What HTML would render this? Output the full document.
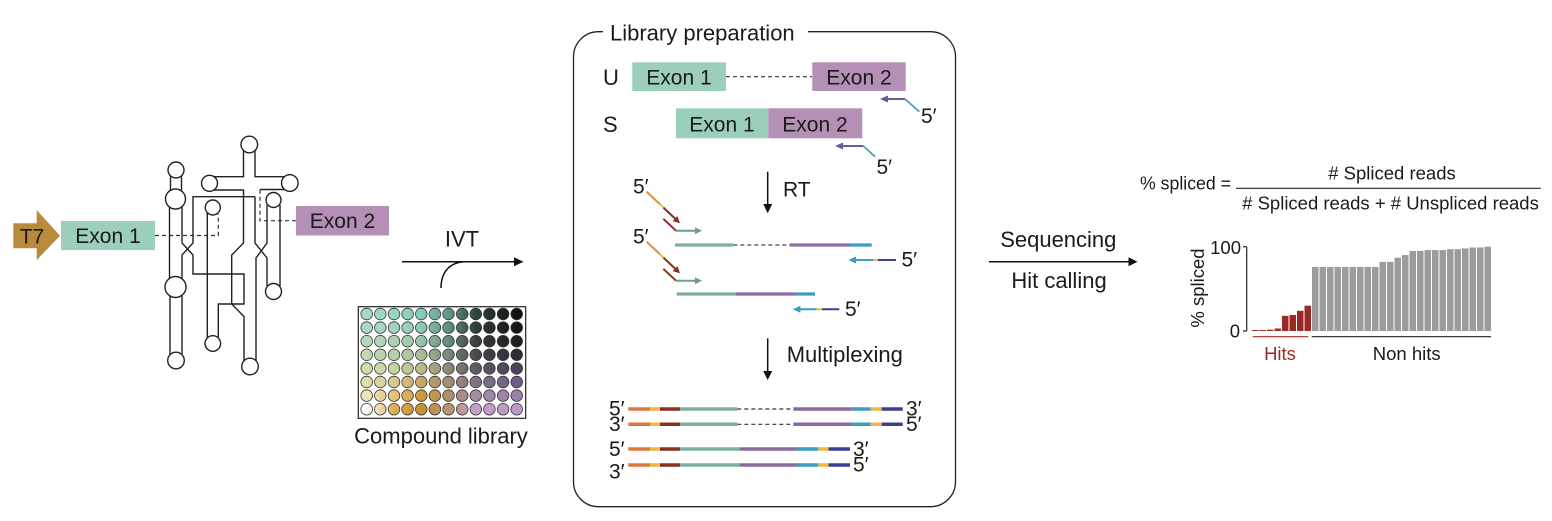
<!DOCTYPE html>
<html><head><meta charset="utf-8"><style>
html,body{margin:0;padding:0;background:#fff;}
svg{display:block;}
text{font-family:"Liberation Sans",Arial,sans-serif;fill:#1a1a1a;}
</style></head><body>
<svg width="1552" height="521" viewBox="0 0 1552 521" xmlns="http://www.w3.org/2000/svg">
<defs>
<linearGradient id="r0" gradientUnits="userSpaceOnUse" x1="366.7" y1="0" x2="516.7" y2="0"><stop offset="0" stop-color="#A8D8CA"/><stop offset=".18" stop-color="#98D4C4"/><stop offset=".36" stop-color="#88CCBC"/><stop offset=".55" stop-color="#5E9688"/><stop offset=".73" stop-color="#2E4441"/><stop offset="1" stop-color="#111111"/></linearGradient>
<linearGradient id="r1" gradientUnits="userSpaceOnUse" x1="366.7" y1="0" x2="516.7" y2="0"><stop offset="0" stop-color="#AED8C6"/><stop offset=".18" stop-color="#A0D4BE"/><stop offset=".36" stop-color="#8ECAB4"/><stop offset=".55" stop-color="#5E8E82"/><stop offset=".73" stop-color="#303C3C"/><stop offset="1" stop-color="#161618"/></linearGradient>
<linearGradient id="r2" gradientUnits="userSpaceOnUse" x1="366.7" y1="0" x2="516.7" y2="0"><stop offset="0" stop-color="#B6D8BE"/><stop offset=".18" stop-color="#AAD2B4"/><stop offset=".36" stop-color="#98C6A8"/><stop offset=".55" stop-color="#66887C"/><stop offset=".73" stop-color="#383E3E"/><stop offset="1" stop-color="#201E22"/></linearGradient>
<linearGradient id="r3" gradientUnits="userSpaceOnUse" x1="366.7" y1="0" x2="516.7" y2="0"><stop offset="0" stop-color="#C2D8B6"/><stop offset=".18" stop-color="#B6D0A8"/><stop offset=".36" stop-color="#A6C09A"/><stop offset=".55" stop-color="#768878"/><stop offset=".73" stop-color="#48484C"/><stop offset="1" stop-color="#302A36"/></linearGradient>
<linearGradient id="r4" gradientUnits="userSpaceOnUse" x1="366.7" y1="0" x2="516.7" y2="0"><stop offset="0" stop-color="#D0DCAE"/><stop offset=".18" stop-color="#C8D4A0"/><stop offset=".36" stop-color="#B8BC88"/><stop offset=".55" stop-color="#8C8A78"/><stop offset=".73" stop-color="#605868"/><stop offset="1" stop-color="#4C405A"/></linearGradient>
<linearGradient id="r5" gradientUnits="userSpaceOnUse" x1="366.7" y1="0" x2="516.7" y2="0"><stop offset="0" stop-color="#E0DEAA"/><stop offset=".18" stop-color="#D8C890"/><stop offset=".36" stop-color="#C8A860"/><stop offset=".55" stop-color="#A08C78"/><stop offset=".73" stop-color="#807088"/><stop offset="1" stop-color="#705C84"/></linearGradient>
<linearGradient id="r6" gradientUnits="userSpaceOnUse" x1="366.7" y1="0" x2="516.7" y2="0"><stop offset="0" stop-color="#EEE6BE"/><stop offset=".18" stop-color="#E4C278"/><stop offset=".36" stop-color="#D09A3C"/><stop offset=".55" stop-color="#B08E6C"/><stop offset=".73" stop-color="#A08CA4"/><stop offset="1" stop-color="#9A82AA"/></linearGradient>
<linearGradient id="r7" gradientUnits="userSpaceOnUse" x1="366.7" y1="0" x2="516.7" y2="0"><stop offset="0" stop-color="#FFFFFF"/><stop offset=".18" stop-color="#DEAE55"/><stop offset=".36" stop-color="#C8902F"/><stop offset=".55" stop-color="#B69478"/><stop offset=".73" stop-color="#C49FC6"/><stop offset="1" stop-color="#BC98C4"/></linearGradient>
<g id="row">
<circle cx="366.7" cy="0" r="5.8"/><circle cx="380.3" cy="0" r="5.8"/><circle cx="394" cy="0" r="5.8"/><circle cx="407.6" cy="0" r="5.8"/><circle cx="421.3" cy="0" r="5.8"/><circle cx="434.9" cy="0" r="5.8"/><circle cx="448.5" cy="0" r="5.8"/><circle cx="462.2" cy="0" r="5.8"/><circle cx="475.8" cy="0" r="5.8"/><circle cx="489.4" cy="0" r="5.8"/><circle cx="503.1" cy="0" r="5.8"/><circle cx="516.7" cy="0" r="5.8"/>
</g>
</defs>

<!-- ===== LEFT: T7 / Exons / RNA structure ===== -->
<polygon points="13.3,223.3 36.7,223.3 36.7,210 60,235.7 36.7,260 36.7,248.3 13.3,248.3" fill="#B98A3C"/>
<text x="32" y="243.5" font-size="21" text-anchor="middle">T7</text>
<rect x="61" y="221" width="94" height="29" fill="#9CCFBA"/>
<text x="108" y="243" font-size="21" text-anchor="middle">Exon 1</text>
<rect x="296" y="206" width="93" height="29.5" fill="#B590B6"/>
<text x="342.5" y="228" font-size="21" text-anchor="middle">Exon 2</text>

<g fill="none" stroke="#222" stroke-width="1.4" stroke-linejoin="miter">
<polyline points="155,235.5 218.3,235.5 218.3,214" stroke-dasharray="4,3" stroke="#333" stroke-width="1.2"/>
<polyline points="296,220.7 260,220.7 260,189.5" stroke-dasharray="4,3" stroke="#333" stroke-width="1.2"/>
<line x1="170.5" y1="176" x2="170.5" y2="192"/>
<line x1="181.5" y1="176" x2="181.5" y2="192"/>
<line x1="169.5" y1="205" x2="169.5" y2="280"/>
<line x1="170" y1="294" x2="170" y2="354"/>
<line x1="182" y1="294" x2="182" y2="354"/>
<polyline points="218.3,337 218.3,304 244,304 244,274 193,274 193,255 182,243 182,206"/>
<polyline points="255,196.7 193,196.7 193,243 182,255 182,280"/>
<line x1="207.3" y1="212" x2="207.3" y2="338"/>
<polyline points="243.5,150 243.5,176.7 213,176.7"/>
<polyline points="213,190 243.5,190 243.5,243 231.7,255 231.7,304 244,316.7 244,361"/>
<polyline points="255,150 255,176.7 286,176.7"/>
<polyline points="286,189.5 260,189.5"/>
<polyline points="255,196.7 255,243 267,258 267,286"/>
<polyline points="267,205 267,243 256,258 256,361"/>
<line x1="280" y1="205" x2="280" y2="286"/>
</g>
<g fill="#fff" stroke="#222" stroke-width="1.4">
<circle cx="176" cy="170" r="8"/>
<circle cx="175.5" cy="199" r="10"/>
<circle cx="175.5" cy="287" r="10.5"/>
<circle cx="176" cy="360.5" r="8.3"/>
<circle cx="212.8" cy="207.5" r="7.5"/>
<circle cx="212.8" cy="343.5" r="7.8"/>
<circle cx="249.3" cy="144.5" r="8.3"/>
<circle cx="209.5" cy="183.3" r="8"/>
<circle cx="289.8" cy="183" r="8.3"/>
<circle cx="273.5" cy="200" r="7.5"/>
<circle cx="273.5" cy="291.5" r="8"/>
<circle cx="250" cy="366.5" r="8.3"/>
</g>

<!-- ===== IVT ===== -->
<text x="462" y="246.7" font-size="22" text-anchor="middle">IVT</text>
<line x1="402" y1="261.7" x2="516" y2="261.7" stroke="#111" stroke-width="1.5"/>
<polygon points="523.5,261.7 514,257.2 514,266.2" fill="#111"/>
<path d="M441,288 C441,272 450,262 465,261.7" fill="none" stroke="#111" stroke-width="1.5"/>

<rect x="358.3" y="306.7" width="167.4" height="111.6" fill="#fff" stroke="#222" stroke-width="1.2"/>
<g stroke="#333" stroke-width="0.8">
<use href="#row" transform="translate(0,314)" fill="url(#r0)"/>
<use href="#row" transform="translate(0,327.6)" fill="url(#r1)"/>
<use href="#row" transform="translate(0,341.2)" fill="url(#r2)"/>
<use href="#row" transform="translate(0,354.8)" fill="url(#r3)"/>
<use href="#row" transform="translate(0,368.4)" fill="url(#r4)"/>
<use href="#row" transform="translate(0,382)" fill="url(#r5)"/>
<use href="#row" transform="translate(0,395.6)" fill="url(#r6)"/>
<use href="#row" transform="translate(0,409.2)" fill="url(#r7)"/>
</g>
<text x="441" y="443.5" font-size="22" text-anchor="middle">Compound library</text>

<!-- ===== LIBRARY PREPARATION BOX ===== -->
<rect x="573.5" y="31.7" width="382" height="475" rx="25" ry="25" fill="none" stroke="#222" stroke-width="1.3"/>
<rect x="603" y="26" width="205" height="12" fill="#fff"/>
<text x="610" y="40.5" font-size="22">Library preparation</text>

<text x="603" y="85" font-size="22">U</text>
<rect x="632.3" y="62.3" width="93.7" height="28.7" fill="#9CCFBA"/>
<text x="679" y="84.5" font-size="21" text-anchor="middle">Exon 1</text>
<line x1="726" y1="76.7" x2="812" y2="76.7" stroke="#333" stroke-width="1.2" stroke-dasharray="4,3"/>
<rect x="812.3" y="62.3" width="93.4" height="28.7" fill="#B590B6"/>
<text x="859" y="84.5" font-size="21" text-anchor="middle">Exon 2</text>
<line x1="887" y1="99" x2="905" y2="99" stroke="#6B5A9E" stroke-width="2"/>
<polygon points="880,99 888,95.5 888,102.5" fill="#6B5A9E"/>
<line x1="905" y1="99" x2="919.3" y2="111.7" stroke="#4AA3B5" stroke-width="1.8"/>
<text x="921" y="123" font-size="21">5′</text>

<text x="603" y="132" font-size="22">S</text>
<rect x="676" y="108.3" width="92.3" height="30" fill="#9CCFBA"/>
<rect x="768.3" y="108.3" width="94" height="30" fill="#B590B6"/>
<text x="722" y="131.5" font-size="21" text-anchor="middle">Exon 1</text>
<text x="815" y="131.5" font-size="21" text-anchor="middle">Exon 2</text>
<line x1="842" y1="146" x2="863.3" y2="146" stroke="#6B5A9E" stroke-width="2"/>
<polygon points="835,146 843,142.5 843,149.5" fill="#6B5A9E"/>
<line x1="863.3" y1="146" x2="875" y2="156.7" stroke="#4AA3B5" stroke-width="1.8"/>
<text x="876.5" y="174" font-size="21">5′</text>

<line x1="767.7" y1="171.7" x2="767.7" y2="205" stroke="#111" stroke-width="1.5"/>
<polygon points="767.7,213.3 763.2,204 772.2,204" fill="#111"/>
<text x="783" y="196.7" font-size="21">RT</text>

<text x="633" y="193.3" font-size="21">5′</text>
<g stroke-width="2" fill="none">
<line x1="646.7" y1="191.7" x2="660" y2="204.3" stroke="#E08A3A"/>
<line x1="660" y1="204.3" x2="663.5" y2="207.6" stroke="#F0B840"/>
<line x1="663.5" y1="207.6" x2="675.5" y2="219" stroke="#8B2E22"/>
<line x1="663.3" y1="218.8" x2="676" y2="230.7" stroke="#8B2E22"/>
<line x1="676" y1="230.7" x2="696" y2="230.7" stroke="#6E9E90"/>
</g>
<polygon points="680,223.3 672.6,221.1 677.4,216.1" fill="#8B2E22"/>
<polygon points="702,230.7 695,227.2 695,234.2" fill="#6E9E90"/>
<text x="633" y="243.3" font-size="21">5′</text>
<g stroke-width="2" fill="none">
<line x1="646.7" y1="241.7" x2="660" y2="254.3" stroke="#E08A3A"/>
<line x1="660" y1="254.3" x2="663.5" y2="257.6" stroke="#F0B840"/>
<line x1="663.5" y1="257.6" x2="675.5" y2="269" stroke="#8B2E22"/>
<line x1="663.3" y1="268.8" x2="676" y2="280.7" stroke="#8B2E22"/>
<line x1="676" y1="280.7" x2="696" y2="280.7" stroke="#6E9E90"/>
</g>
<polygon points="680,273.3 672.6,271.1 677.4,266.1" fill="#8B2E22"/>
<polygon points="702,280.7 695,277.2 695,284.2" fill="#6E9E90"/>

<g stroke-width="3.3">
<line x1="675" y1="245" x2="733.3" y2="245" stroke="#7FAE9C"/>
<line x1="733.3" y1="245" x2="790" y2="245" stroke="#444" stroke-width="1.2" stroke-dasharray="4,3"/>
<line x1="790" y1="245" x2="850" y2="245" stroke="#8B6AA0"/>
<line x1="850" y1="245" x2="871.7" y2="245" stroke="#3B9CC4"/>
</g>
<g stroke-width="2">
<line x1="855" y1="260" x2="873.3" y2="260" stroke="#3B9CC4"/>
<line x1="873.3" y1="260" x2="878" y2="260" stroke="#F0B840"/>
<line x1="878" y1="260" x2="896" y2="260" stroke="#3A4090"/>
</g>
<polygon points="848.3,260 856,256.5 856,263.5" fill="#3B9CC4"/>
<text x="901.5" y="266.7" font-size="21">5′</text>

<g stroke-width="3.3">
<line x1="676.7" y1="294" x2="736" y2="294" stroke="#7FAE9C"/>
<line x1="736" y1="294" x2="795" y2="294" stroke="#8B6AA0"/>
<line x1="795" y1="294" x2="815" y2="294" stroke="#3B9CC4"/>
</g>
<g stroke-width="2">
<line x1="799.5" y1="309.3" x2="816.7" y2="309.3" stroke="#3B9CC4"/>
<line x1="816.7" y1="309.3" x2="822" y2="309.3" stroke="#F0B840"/>
<line x1="822" y1="309.3" x2="839.3" y2="309.3" stroke="#3A4090"/>
</g>
<polygon points="792.7,309.3 800.4,305.8 800.4,312.8" fill="#3B9CC4"/>
<text x="845" y="316" font-size="21">5′</text>

<line x1="767.7" y1="338.3" x2="767.7" y2="372" stroke="#111" stroke-width="1.5"/>
<polygon points="767.7,380 763.2,371 772.2,371" fill="#111"/>
<text x="786.7" y="362" font-size="22">Multiplexing</text>

<g stroke-width="3.5">
<line x1="628.3" y1="409" x2="650" y2="409" stroke="#D9783A"/>
<line x1="650" y1="409" x2="660" y2="409" stroke="#F0B840"/>
<line x1="660" y1="409" x2="680" y2="409" stroke="#8B3020"/>
<line x1="680" y1="409" x2="737.3" y2="409" stroke="#7FAE9C"/>
<line x1="737.3" y1="409" x2="793.3" y2="409" stroke="#333" stroke-width="1.2" stroke-dasharray="4,3"/>
<line x1="793.3" y1="409" x2="851.7" y2="409" stroke="#8B6AA0"/>
<line x1="851.7" y1="409" x2="870.7" y2="409" stroke="#3B9CC4"/>
<line x1="870.7" y1="409" x2="881.7" y2="409" stroke="#F0B840"/>
<line x1="881.7" y1="409" x2="902.7" y2="409" stroke="#3A4090"/>

<line x1="628.3" y1="424.3" x2="650" y2="424.3" stroke="#D9783A"/>
<line x1="650" y1="424.3" x2="660" y2="424.3" stroke="#F0B840"/>
<line x1="660" y1="424.3" x2="680" y2="424.3" stroke="#8B3020"/>
<line x1="680" y1="424.3" x2="737.3" y2="424.3" stroke="#7FAE9C"/>
<line x1="737.3" y1="424.3" x2="793.3" y2="424.3" stroke="#333" stroke-width="1.2" stroke-dasharray="4,3"/>
<line x1="793.3" y1="424.3" x2="851.7" y2="424.3" stroke="#8B6AA0"/>
<line x1="851.7" y1="424.3" x2="870.7" y2="424.3" stroke="#3B9CC4"/>
<line x1="870.7" y1="424.3" x2="881.7" y2="424.3" stroke="#F0B840"/>
<line x1="881.7" y1="424.3" x2="902.7" y2="424.3" stroke="#3A4090"/>

<line x1="628.3" y1="449" x2="650" y2="449" stroke="#D9783A"/>
<line x1="650" y1="449" x2="660" y2="449" stroke="#F0B840"/>
<line x1="660" y1="449" x2="680" y2="449" stroke="#8B3020"/>
<line x1="680" y1="449" x2="739.3" y2="449" stroke="#7FAE9C"/>
<line x1="739.3" y1="449" x2="797" y2="449" stroke="#8B6AA0"/>
<line x1="797" y1="449" x2="818.3" y2="449" stroke="#3B9CC4"/>
<line x1="818.3" y1="449" x2="828.5" y2="449" stroke="#F0B840"/>
<line x1="828.5" y1="449" x2="850" y2="449" stroke="#3A4090"/>

<line x1="628.3" y1="465" x2="650" y2="465" stroke="#D9783A"/>
<line x1="650" y1="465" x2="660" y2="465" stroke="#F0B840"/>
<line x1="660" y1="465" x2="680" y2="465" stroke="#8B3020"/>
<line x1="680" y1="465" x2="739.3" y2="465" stroke="#7FAE9C"/>
<line x1="739.3" y1="465" x2="797" y2="465" stroke="#8B6AA0"/>
<line x1="797" y1="465" x2="818.3" y2="465" stroke="#3B9CC4"/>
<line x1="818.3" y1="465" x2="828.5" y2="465" stroke="#F0B840"/>
<line x1="828.5" y1="465" x2="850" y2="465" stroke="#3A4090"/>
</g>
<text x="609" y="415.5" font-size="21">5′</text>
<text x="906" y="415.5" font-size="21">3′</text>
<text x="609" y="431" font-size="21">3′</text>
<text x="906" y="431" font-size="21">5′</text>
<text x="609" y="456" font-size="21">5′</text>
<text x="853" y="456" font-size="21">3′</text>
<text x="609" y="478.5" font-size="21">3′</text>
<text x="853" y="471.5" font-size="21">5′</text>

<text x="1058.3" y="247" font-size="22" text-anchor="middle">Sequencing</text>
<line x1="989" y1="261.7" x2="1130" y2="261.7" stroke="#111" stroke-width="1.5"/>
<polygon points="1137.5,261.7 1128.5,257.2 1128.5,266.2" fill="#111"/>
<text x="1059" y="288" font-size="22" text-anchor="middle">Hit calling</text>

<text x="1140" y="189.5" font-size="18.5" textLength="91" lengthAdjust="spacingAndGlyphs">% spliced =</text>
<text x="1392" y="179.5" font-size="18.5" text-anchor="middle"># Spliced reads</text>
<line x1="1236" y1="188.3" x2="1540.7" y2="188.3" stroke="#222" stroke-width="1.2"/>
<text x="1390.5" y="209.5" font-size="18.5" text-anchor="middle"># Spliced reads + # Unspliced reads</text>

<text transform="translate(1204,288) rotate(-90)" font-size="18.5" text-anchor="middle">% spliced</text>
<text x="1241" y="254" font-size="18.5" text-anchor="end">100</text>
<text x="1240" y="337.5" font-size="18.5" text-anchor="end">0</text>
<g stroke="#222" stroke-width="1.2">
<line x1="1246.7" y1="246.7" x2="1246.7" y2="331"/>
<line x1="1243" y1="246.7" x2="1246.7" y2="246.7"/>
<line x1="1243" y1="331" x2="1246.7" y2="331"/>
</g>
<g fill="#9B2A24">
<rect x="1252" y="330" width="6.5" height="1"/>
<rect x="1259.5" y="330" width="6.5" height="1"/>
<rect x="1267" y="329.7" width="6.5" height="1.3"/>
<rect x="1274.5" y="328.5" width="6.5" height="2.5"/>
<rect x="1282" y="315.8" width="6.5" height="15.2"/>
<rect x="1289.5" y="315" width="6.5" height="16"/>
<rect x="1297" y="310.8" width="6.5" height="20.2"/>
<rect x="1304.5" y="305.7" width="6.5" height="25.3"/>
</g>
<g fill="#9B9B9B">
<rect x="1312" y="266.9" width="6.5" height="64.1"/>
<rect x="1319.5" y="266.9" width="6.5" height="64.1"/>
<rect x="1327" y="266.9" width="6.5" height="64.1"/>
<rect x="1334.5" y="266.9" width="6.5" height="64.1"/>
<rect x="1342" y="266.9" width="6.5" height="64.1"/>
<rect x="1349.5" y="266.9" width="6.5" height="64.1"/>
<rect x="1357" y="266.9" width="6.5" height="64.1"/>
<rect x="1364.5" y="266.9" width="6.5" height="64.1"/>
<rect x="1372" y="266.9" width="6.5" height="64.1"/>
<rect x="1379.5" y="261.9" width="6.5" height="69.1"/>
<rect x="1387" y="261.9" width="6.5" height="69.1"/>
<rect x="1394.5" y="257.7" width="6.5" height="73.3"/>
<rect x="1402" y="255.1" width="6.5" height="75.9"/>
<rect x="1409.5" y="250.9" width="6.5" height="80.1"/>
<rect x="1417" y="250.9" width="6.5" height="80.1"/>
<rect x="1424.5" y="250.1" width="6.5" height="80.9"/>
<rect x="1432" y="250.1" width="6.5" height="80.9"/>
<rect x="1439.5" y="250.1" width="6.5" height="80.9"/>
<rect x="1447" y="249.2" width="6.5" height="81.8"/>
<rect x="1454.5" y="249.2" width="6.5" height="81.8"/>
<rect x="1462" y="248.4" width="6.5" height="82.6"/>
<rect x="1469.5" y="247.5" width="6.5" height="83.5"/>
<rect x="1477" y="247.5" width="6.5" height="83.5"/>
<rect x="1484.5" y="246.7" width="6.5" height="84.3"/>
</g>
<line x1="1252.7" y1="336.7" x2="1308.3" y2="336.7" stroke="#9B2A24" stroke-width="1.2"/>
<line x1="1311.7" y1="336.7" x2="1491" y2="336.7" stroke="#222" stroke-width="1.2"/>
<text x="1280" y="360" font-size="18.5" text-anchor="middle" style="fill:#9B2A24">Hits</text>
<text x="1406.7" y="360" font-size="18.5" text-anchor="middle">Non hits</text>
</svg>
</body></html>
